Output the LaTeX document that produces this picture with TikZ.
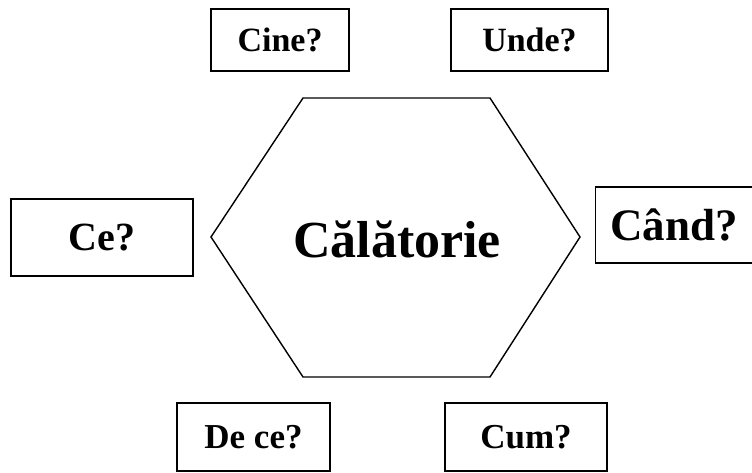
\documentclass[tikz,border=0pt]{standalone}
\usepackage{fontspec}
\setmainfont{Liberation Serif}
\usetikzlibrary{positioning,calc}
\definecolor{Ink}{HTML}{000000}

\begin{document}
\begin{tikzpicture}[x=1pt,y=1pt,
  qbox/.style={draw=Ink,line width=1.6pt,inner sep=0pt,font=\bfseries,text=Ink}]
\useasboundingbox (0,0) rectangle (752,472);
% hexagon
\coordinate (htl) at (303,374);
\coordinate (htr) at (490,374);
\coordinate (hr) at (580,235);
\coordinate (hbr) at (490,95);
\coordinate (hbl) at (303,95);
\coordinate (hl) at (211,235);
\draw[Ink,line width=1.4pt,line join=miter] (htl) -- (htr) -- (hr) -- (hbr) -- (hbl) -- (hl) -- cycle;
\node[anchor=base,font=\fontsize{52}{52}\selectfont\bfseries,text=Ink] (trip) at (397,215) {Călătorie};
% question boxes
\node[qbox,minimum width=138,minimum height=62,font=\fontsize{34}{34}\selectfont\bfseries] (cine) at (280,432) {Cine?};
\node[qbox,minimum width=157,minimum height=62,font=\fontsize{34}{34}\selectfont\bfseries] (unde) at (529.5,432) {Unde?};
\node[qbox,minimum width=182,minimum height=77,font=\fontsize{40}{40}\selectfont\bfseries] (ce) at (102,234.5) {Ce?};
\node[qbox,minimum width=157,minimum height=76,font=\fontsize{45}{45}\selectfont\bfseries] (cand) at (674,247) {Când?};
\node[qbox,minimum width=153,minimum height=68,font=\fontsize{35}{35}\selectfont\bfseries] (dece) at (253.5,35) {De ce?};
\node[qbox,minimum width=162,minimum height=68,font=\fontsize{35}{35}\selectfont\bfseries] (cum) at (526,35) {Cum?};
\end{tikzpicture}
\end{document}
